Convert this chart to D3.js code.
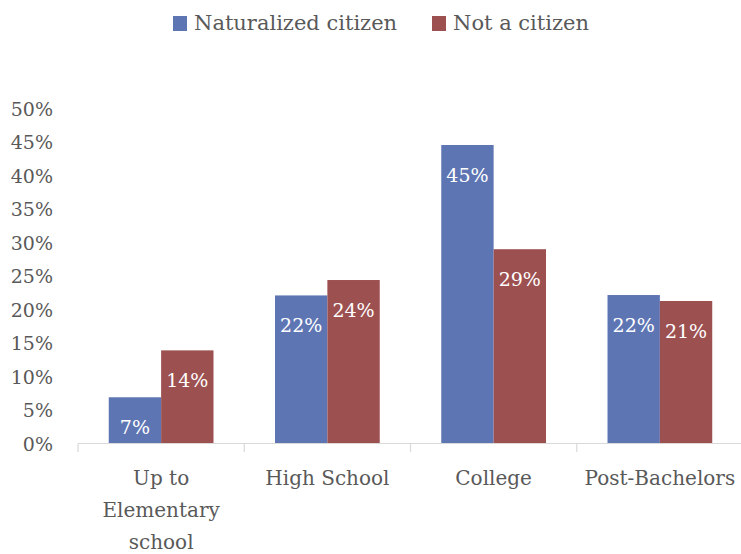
<!DOCTYPE html>
<html><head><meta charset="utf-8">
<script src="https://cdn.jsdelivr.net/npm/d3@7"></script>
<style>body{margin:0;background:#fff}svg{display:block}text{font-family:"Palatino Linotype","Book Antiqua",Palatino,"DejaVu Serif",serif;fill:#595959}</style>
</head><body>
<svg id="c" width="741" height="554"></svg>
<script>
const categories = ["Up to Elementary school", "High School", "College", "Post-Bachelors"];
const seriesNames = ["Naturalized citizen", "Not a citizen"];
const naturalized = [0.069, 0.221, 0.4455, 0.2216];
const notCitizen = [0.139, 0.244, 0.290, 0.2127];
const yTicks = [0, 0.05, 0.10, 0.15, 0.20, 0.25, 0.30, 0.35, 0.40, 0.45, 0.50];
const colors = ["#5E75B4", "#9D5050"];

const svg = d3.select("#c");
const x0 = d3.scaleBand().domain(categories).range([78, 743]).paddingInner(0.37).paddingOuter(0.185);
const x1 = d3.scaleBand().domain(seriesNames).range([0, x0.bandwidth()]);
const y = d3.scaleLinear().domain([0, 0.5]).range([443.5, 108.5]);
const series = [naturalized, notCitizen];

// y axis labels
const fmt = d3.format(".0%");
const yAxis = d3.axisLeft(y).tickValues(yTicks).tickFormat(fmt).tickSize(0).tickPadding(0);
const yg = svg.append("g").attr("transform", "translate(53,0)").call(yAxis);
yg.select(".domain").remove();
yg.selectAll("text").style("font-size", "19px").attr("fill", "#595959").style("font-family", null).attr("dy", "0.35em");

// bars
const groups = svg.append("g").selectAll("g").data(categories).join("g")
  .attr("transform", d => `translate(${x0(d)},0)`);
groups.selectAll("rect").data((d, i) => seriesNames.map((s, j) => ({s, v: series[j][i]}))).join("rect")
  .attr("x", d => x1(d.s)).attr("width", x1.bandwidth())
  .attr("y", d => y(d.v)).attr("height", d => y(0) - y(d.v))
  .attr("fill", (d, j) => colors[seriesNames.indexOf(d.s)]);
groups.selectAll("text").data((d, i) => seriesNames.map((s, j) => ({s, v: series[j][i]}))).join("text")
  .attr("x", d => x1(d.s) + x1.bandwidth() / 2).attr("y", d => y(d.v) + 30).attr("dy", "0.35em")
  .attr("text-anchor", "middle").style("fill", "#fff").style("font-size", "19px")
  .text(d => fmt(d.v));

// x axis
const xg = svg.append("g");
xg.append("line").attr("x1", 78).attr("x2", 743).attr("y1", 443.5).attr("y2", 443.5).attr("stroke", "#d9d9d9").attr("stroke-width", 1.2);
const bounds = categories.map(c => x0(c) - x0.step() * x0.paddingInner() / 2);
xg.selectAll("line.tk").data(bounds).join("line").attr("class", "tk")
  .attr("x1", d => d).attr("x2", d => d).attr("y1", 443.5).attr("y2", 452).attr("stroke", "#d9d9d9").attr("stroke-width", 1.2);

// category labels with wrapping
const maxW = 145;
categories.forEach(c => {
  const cx = x0(c) + x0.bandwidth() / 2;
  const t = xg.append("text").attr("text-anchor", "middle").style("font-size", "20px");
  const words = c.split(" ");
  let lines = [], cur = [];
  const probe = svg.append("text").style("font-size", "20px");
  words.forEach(w => {
    const test = cur.concat([w]).join(" ");
    probe.text(test);
    if (cur.length && probe.node().getComputedTextLength() > maxW) { lines.push(cur.join(" ")); cur = [w]; }
    else cur.push(w);
  });
  lines.push(cur.join(" "));
  probe.remove();
  lines.forEach((l, i) => t.append("tspan").attr("x", cx).attr("y", 478 + i * 32).attr("dy", "0.35em").text(l));
});

// legend
const legX = [173, 432];
seriesNames.forEach((s, i) => {
  svg.append("rect").attr("x", legX[i]).attr("y", 16).attr("width", 14).attr("height", 15).attr("fill", colors[i]);
  svg.append("text").attr("x", legX[i] + 21).attr("y", 30).style("font-size", "21px").text(s);
});
</script>
</body></html>
